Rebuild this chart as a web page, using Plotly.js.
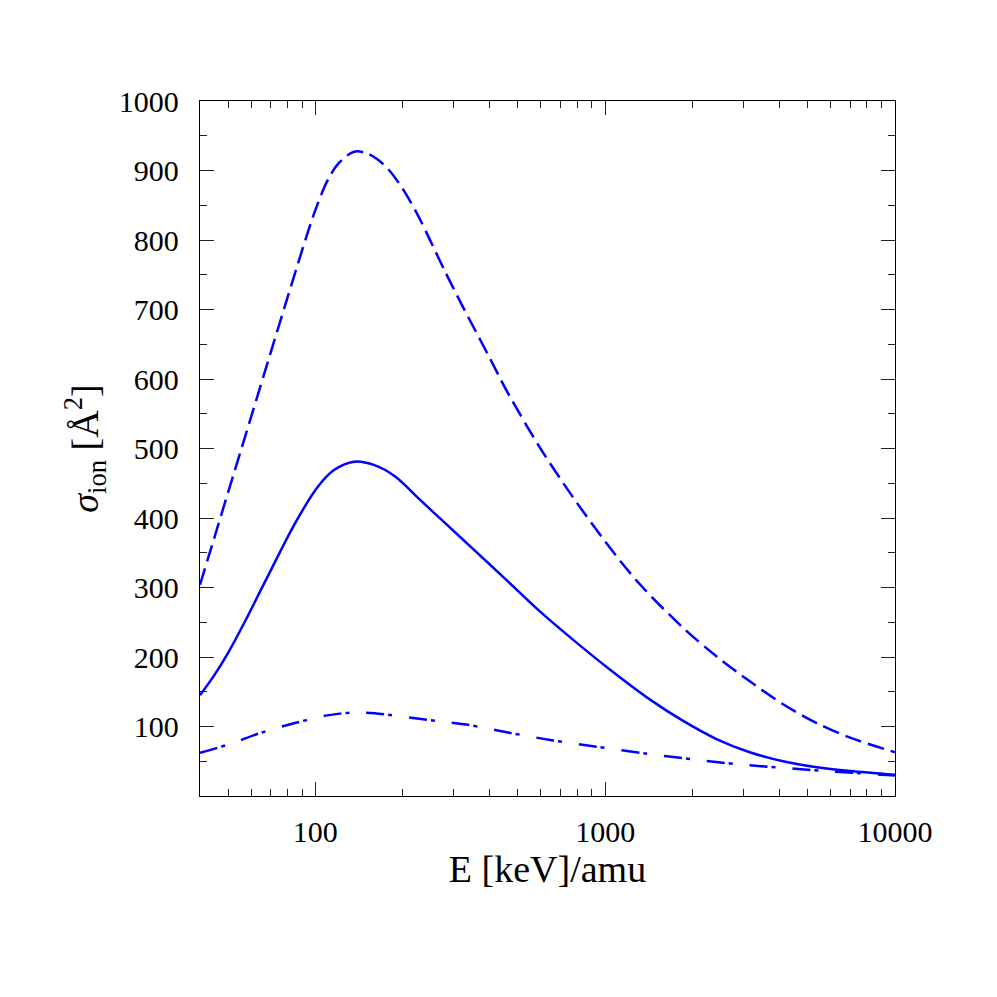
<!DOCTYPE html>
<html>
<head>
<meta charset="utf-8">
<script src="https://cdn.plot.ly/plotly-3.0.1.min.js"></script>
<style>
  html, body { margin: 0; padding: 0; background: #fff; }
  #chart { width: 997px; height: 997px; }
</style>
</head>
<body>
<div id="chart"></div>
<script>
// values (E in keV/amu, sigma in A^2)
const energySolid = [40, 45, 50, 57, 67, 85, 102, 116, 136, 160, 188, 230, 280, 349, 456, 594, 774, 1009, 1425, 1858, 2421, 3155, 4110, 5366, 6998, 10000];
const sigmaSolid = [145, 175, 206, 250, 308, 392, 445, 469, 481, 476, 460, 426, 393, 356, 311, 266, 225, 186, 139, 108, 82, 63, 50, 41.5, 36, 30.5];

const energyDashed = [40, 45, 50, 60, 70, 80, 90, 100, 110, 120, 136, 150, 165, 180, 200, 225, 250, 280, 320, 349, 400, 456, 594, 774, 1009, 1315, 1858, 2421, 3155, 4110, 5366, 6998, 10000];
const sigmaDashed = [304, 374, 437, 545, 637, 716, 785, 843, 885, 910, 927, 925, 915, 900, 874, 837, 798, 755, 707, 677, 630, 584, 502, 430, 364, 305, 242, 201, 165, 132, 105, 84, 63];

const energyDashDot = [40, 50, 65, 85, 110, 133, 160, 260, 331, 467, 660, 933, 1380, 2020, 2917, 4110, 5810, 10000];
const sigmaDashDot = [62, 74, 91, 105, 116, 120, 119, 108, 103, 91, 80, 71, 61, 52.6, 45.4, 40.6, 35.8, 29.6];

const xMajorTicks = [100, 1000, 10000];
const xMinorTicks = [50, 60, 70, 80, 90, 200, 300, 400, 500, 600, 700, 800, 900,
  2000, 3000, 4000, 5000, 6000, 7000, 8000, 9000];
const yMajorTicks = [100, 200, 300, 400, 500, 600, 700, 800, 900, 1000];
const yMinorTicks = [50, 150, 250, 350, 450, 550, 650, 750, 850, 950];

const blue = '#0000ff';
const font = 'Liberation Serif, Times New Roman, serif';
const xRange = [Math.log10(40), 4];

const traces = [
  {x: energyDashed, y: sigmaDashed, mode: 'lines', name: 'dashed',
   line: {color: blue, width: 2.5, dash: '17px,7px', shape: 'spline', smoothing: 0.9}},
  {x: energySolid, y: sigmaSolid, mode: 'lines', name: 'solid',
   line: {color: blue, width: 2.5, shape: 'spline', smoothing: 0.9}},
  {x: energyDashDot, y: sigmaDashDot, mode: 'lines', name: 'dash-dot',
   line: {color: blue, width: 2.5, dash: '18px,4px,4px,17px', shape: 'spline', smoothing: 0.9}},
  // empty trace so the minor-tick axis gets drawn
  {x: [], y: [], xaxis: 'x2', yaxis: 'y', showlegend: false, hoverinfo: 'skip'},
];

const layout = {
  width: 997,
  height: 997,
  margin: {l: 200, r: 102, t: 101, b: 201},
  paper_bgcolor: '#fff',
  plot_bgcolor: '#fff',
  showlegend: false,
  font: {family: font, size: 30, color: '#000'},
  xaxis: {
    type: 'log',
    range: xRange,
    tickvals: xMajorTicks,
    ticktext: xMajorTicks.map(String),
    ticks: 'inside',
    ticklen: 14,
    tickwidth: 1,
    tickcolor: '#222',
    showline: true,
    linecolor: '#000',
    linewidth: 1.2,
    mirror: 'ticks',
    showgrid: false,
    zeroline: false,
    ticklabelstandoff: 9,
    title: {text: 'E [keV]/amu', font: {size: 38}, standoff: 8},
  },
  xaxis2: {
    type: 'log',
    range: xRange,
    overlaying: 'x',
    side: 'bottom',
    tickvals: xMinorTicks,
    showticklabels: false,
    ticks: 'inside',
    ticklen: 7,
    tickwidth: 1,
    tickcolor: '#222',
    showline: false,
    mirror: 'ticks',
    showgrid: false,
    zeroline: false,
  },
  yaxis: {
    range: [0, 1000],
    tickvals: yMajorTicks,
    ticks: 'inside',
    ticklen: 14,
    tickwidth: 1,
    tickcolor: '#222',
    minor: {tickvals: yMinorTicks, ticks: 'inside', ticklen: 7, tickcolor: '#222', showgrid: false},
    showline: true,
    linecolor: '#000',
    linewidth: 1.2,
    mirror: 'ticks',
    showgrid: false,
    zeroline: false,
    ticklabelstandoff: 14,
    title: {text: '<i>σ</i><sub>ion</sub> [Å<sup>2</sup>]', font: {size: 38}, standoff: 8},
  },
};

Plotly.newPlot('chart', traces, layout, {staticPlot: true});
</script>
</body>
</html>
